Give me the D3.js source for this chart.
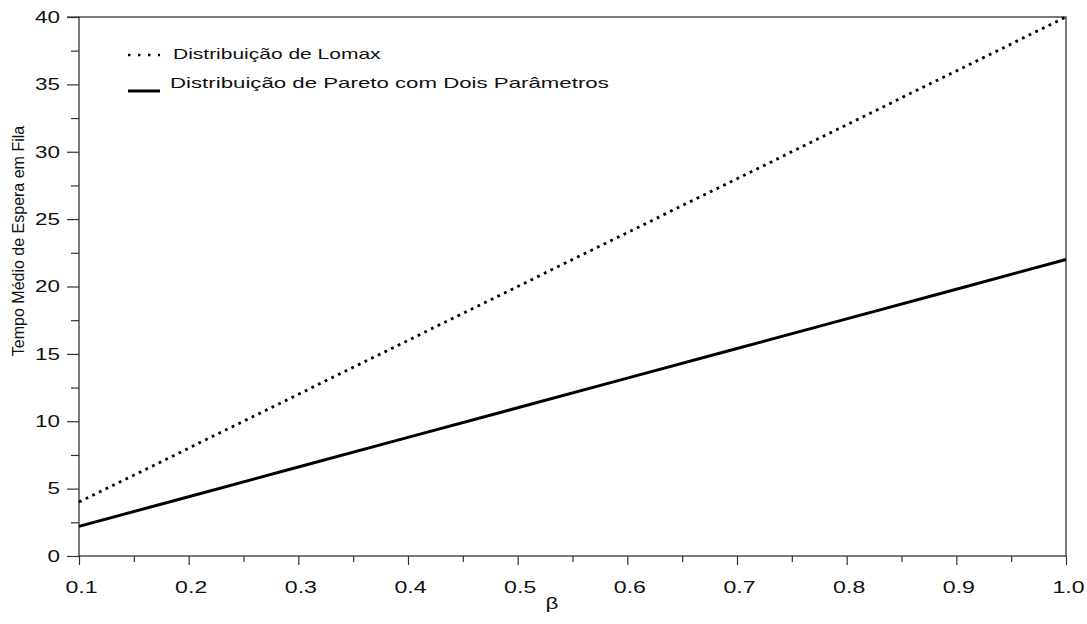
<!DOCTYPE html>
<html>
<head>
<meta charset="utf-8">
<script src="https://cdn.jsdelivr.net/npm/d3@7"></script>
<style>
  html, body { margin: 0; padding: 0; background: #fff; }
  svg { display: block; font-family: "Liberation Sans", Arial, sans-serif; }
</style>
</head>
<body>
<svg id="chart" width="1087" height="624"></svg>
<script>
// ---- data ----
const betaValues = [0.1, 0.2, 0.3, 0.4, 0.5, 0.6, 0.7, 0.8, 0.9, 1.0];
const lomaxValues = [4, 8, 12, 16, 20, 24, 28, 32, 36, 40];
const paretoValues = [2.2, 4.4, 6.6, 8.8, 11, 13.2, 15.4, 17.6, 19.8, 22];
const seriesNames = ["Distribuição de Lomax", "Distribuição de Pareto com Dois Parâmetros"];
const xTickValues = [0.1, 0.2, 0.3, 0.4, 0.5, 0.6, 0.7, 0.8, 0.9, 1.0];
const xMinorTicks = [0.15, 0.25, 0.35, 0.45, 0.55, 0.65, 0.75, 0.85, 0.95];
const yTickValues = [0, 5, 10, 15, 20, 25, 30, 35, 40];
const yMinorTicks = [2.5, 7.5, 12.5, 17.5, 22.5, 27.5, 32.5, 37.5];
const xTitle = "β";
const yTitle = "Tempo Médio de Espera em Fila";

// ---- layout ----
const svg = d3.select("#chart");
const L = 79, R = 1066, T = 17, B = 556;
const x = d3.scaleLinear().domain([0.1, 1.0]).range([L, R]);
const y = d3.scaleLinear().domain([0, 40]).range([B, T]);
const axisColor = "#333";
const sx = 1.36;

// minor ticks
const gyMinor = svg.append("g").attr("transform", `translate(${L},0)`)
  .call(d3.axisLeft(y).tickValues(yMinorTicks).tickSize(8).tickFormat(""));
gyMinor.select(".domain").remove();
gyMinor.selectAll("line").attr("stroke", axisColor).attr("stroke-width", 1.2);

const gxMinor = svg.append("g").attr("transform", `translate(0,${B})`)
  .call(d3.axisBottom(x).tickValues(xMinorTicks).tickSize(6).tickFormat(""));
gxMinor.select(".domain").remove();
gxMinor.selectAll("line").attr("stroke", axisColor).attr("stroke-width", 1.2);

// major y axis
const gy = svg.append("g").attr("transform", `translate(${L},0)`)
  .call(d3.axisLeft(y).tickValues(yTickValues).tickSize(12).tickPadding(7).tickFormat(d3.format("d")));
gy.select(".domain").remove();
gy.selectAll("line").attr("stroke", axisColor).attr("stroke-width", 1.2);
gy.selectAll("text")
  .attr("font-size", 16.5).attr("fill", "#111")
  .attr("font-family", "Liberation Sans, Arial, sans-serif")
  .attr("x", -19 / sx)
  .attr("transform", `scale(${sx},1)`);

// major x axis
const gx = svg.append("g").attr("transform", `translate(0,${B})`)
  .call(d3.axisBottom(x).tickValues(xTickValues).tickSize(9).tickFormat(d3.format(".1f")));
gx.select(".domain").remove();
gx.selectAll("line").attr("stroke", axisColor).attr("stroke-width", 1.2);
gx.selectAll(".tick").each(function() {
  const t = d3.select(this).select("text");
  t.attr("font-size", 17).attr("fill", "#111")
   .attr("font-family", "Liberation Sans, Arial, sans-serif")
   .attr("y", 0).attr("dy", null)
   .attr("transform", `translate(2,37) scale(${sx},1)`);
});

// frame
svg.append("rect")
  .attr("x", L).attr("y", T).attr("width", R - L).attr("height", B - T)
  .attr("fill", "none").attr("stroke", axisColor).attr("stroke-width", 1.3);
svg.append("line").attr("x1", L - 12).attr("x2", L).attr("y1", T).attr("y2", T)
  .attr("stroke", axisColor).attr("stroke-width", 1.2);

// lines
const lomaxData = betaValues.map((b, i) => [b, lomaxValues[i]]);
const paretoData = betaValues.map((b, i) => [b, paretoValues[i]]);
const line = d3.line().x(d => x(d[0])).y(d => y(d[1]));

svg.append("path").datum(paretoData)
  .attr("d", line).attr("fill", "none").attr("stroke", "#000")
  .attr("stroke-width", 3);

svg.append("path").datum(lomaxData)
  .attr("d", line).attr("fill", "none").attr("stroke", "#000")
  .attr("stroke-width", 2.8).attr("stroke-dasharray", "2.8,4.6");

// legend
const leg = svg.append("g");
leg.append("line").attr("x1", 128).attr("x2", 160).attr("y1", 55).attr("y2", 55)
  .attr("stroke", "#000").attr("stroke-width", 2.4).attr("stroke-dasharray", "2.4,7.6");
leg.append("line").attr("x1", 128).attr("x2", 160).attr("y1", 91).attr("y2", 91)
  .attr("stroke", "#000").attr("stroke-width", 3);
leg.append("text").text(seriesNames[0])
  .attr("transform", `translate(173,59) scale(1.5,1)`)
  .attr("font-size", 14).attr("fill", "#111");
leg.append("text").text(seriesNames[1])
  .attr("transform", `translate(170,88) scale(1.59,1)`)
  .attr("font-size", 14).attr("fill", "#111");

// axis titles
svg.append("text").text(xTitle)
  .attr("transform", `translate(552,609) scale(1.4,1)`)
  .attr("text-anchor", "middle").attr("font-size", 16).attr("fill", "#111");
svg.append("text").text(yTitle)
  .attr("transform", `translate(24,241) rotate(-90)`)
  .attr("text-anchor", "middle").attr("font-size", 16).attr("fill", "#111");
</script>
</body>
</html>
